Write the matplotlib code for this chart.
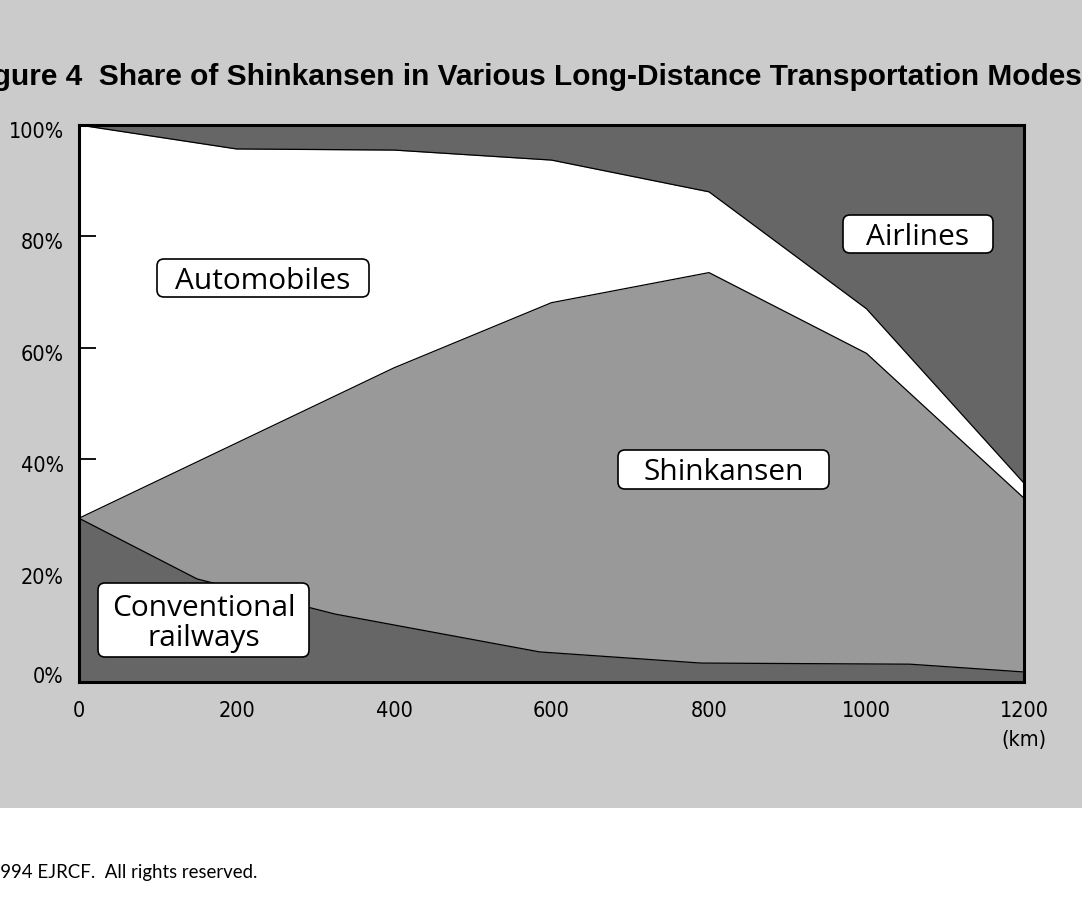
import matplotlib
matplotlib.use("Agg")
import matplotlib.pyplot as plt
import matplotlib.transforms as mtransforms
from matplotlib.patches import Rectangle, FancyBboxPatch

# ---- data (cumulative upper boundaries, %) ----
conv_x = [0, 150, 325, 585, 790, 1055, 1200]
conv_top = [29.4, 18.5, 12.2, 5.4, 3.4, 3.2, 1.8]

shin_x = [0, 400, 600, 800, 1000, 1200]
shin_top = [29.4, 56.4, 68.1, 73.5, 59.0, 33.0]

auto_x = [0, 200, 400, 600, 800, 1000, 1200]
auto_top = [100, 95.7, 95.5, 93.7, 88.0, 67.0, 35.7]

x_ticks = [0, 200, 400, 600, 800, 1000, 1200]
y_ticks = [0, 20, 40, 60, 80, 100]
y_labels = ["0%", "20%", "40%", "60%", "80%", "100%"]

labels = ["Automobiles", "Airlines", "Shinkansen", "Conventional\nrailways"]

BG = "#cbcbcb"
DARK = "#666666"
MID = "#999999"

W, H = 1082, 909
fig = plt.figure(figsize=(W / 100, H / 100), dpi=100, facecolor="white")
# pixel transform (origin top-left)
pix = mtransforms.Affine2D().scale(1, -1).translate(0, H).scale(1 / W, 1 / H) + fig.transFigure

fig.patches.append(Rectangle((0, (H - 808) / H), 1, 808 / H, transform=fig.transFigure,
                             facecolor=BG, edgecolor="none", zorder=-10))

ax = fig.add_axes([79 / W, (H - 682) / H, (1024 - 79) / W, (682 - 125) / H])
ax.set_zorder(5)
ax.set_facecolor(DARK)
ax.set_xlim(0, 1200)
ax.set_ylim(0, 100)

ax.fill_between(auto_x, 0, auto_top, color="white", lw=0, zorder=1)
ax.fill_between(shin_x, 0, shin_top, color=MID, lw=0, zorder=2)
ax.fill_between(conv_x, 0, conv_top, color=DARK, lw=0, zorder=3)
for xs, ys in [(auto_x, auto_top), (shin_x, shin_top), (conv_x, conv_top)]:
    ax.plot(xs, ys, color="black", lw=0.9, zorder=4)

for s in ax.spines.values():
    s.set_linewidth(2.2)
    s.set_zorder(10)

tick_font = dict(family="DejaVu Sans", stretch="condensed", size=15.5)
ax.set_xticks(x_ticks)
ax.set_xticklabels([str(v) for v in x_ticks], fontdict=tick_font)
ax.set_yticks(y_ticks)
ax.set_yticklabels(y_labels, fontdict=tick_font)
ax.tick_params(axis="y", direction="in", length=12.5, width=1.3, pad=11)
ax.tick_params(axis="x", direction="in", length=8.5, width=1.3, pad=14)
for lab, val in zip(ax.get_yticklabels(), y_ticks):
    dy = 7 if val == 0 else -5
    lab.set_transform(lab.get_transform() +
                      mtransforms.ScaledTranslation(0, dy / 100, fig.dpi_scale_trans))
ax.text(1200, -10.4, "(km)", ha="center", va="center", fontdict=tick_font)

# label boxes (pixel layout: left, top, width, height)
boxes = [(157, 259, 212, 38), (843, 215, 150, 38), (618, 450, 211, 39), (98, 583, 211, 74)]
for txt, (bx, by, bw, bh) in zip(labels, boxes):
    fig.patches.append(FancyBboxPatch((bx, by), bw, bh, transform=pix,
                                      boxstyle="round,pad=0,rounding_size=7",
                                      facecolor="white", edgecolor="black", lw=1.2,
                                      zorder=20))
    fig.text(bx + bw / 2, by + bh / 2 + 3.5, txt, transform=pix, ha="center", va="center",
             fontsize=21.5, family=["Open Sans", "DejaVu Sans"], linespacing=1.07,
             zorder=21)

fig.text(524 / W, 1 - 77 / H,
         "Figure 4  Share of Shinkansen in Various Long-Distance Transportation Modes",
         ha="center", va="center", fontsize=21.5, fontweight="bold",
         family=["Liberation Sans", "DejaVu Sans"])

fig.text(257 / W, 1 - 872 / H, "\u00a9 1994 EJRCF.  All rights reserved.",
         ha="right", va="center", fontsize=13.4, family=["Lato", "DejaVu Sans"])

fig.savefig("out.png", dpi=100, facecolor="white")
